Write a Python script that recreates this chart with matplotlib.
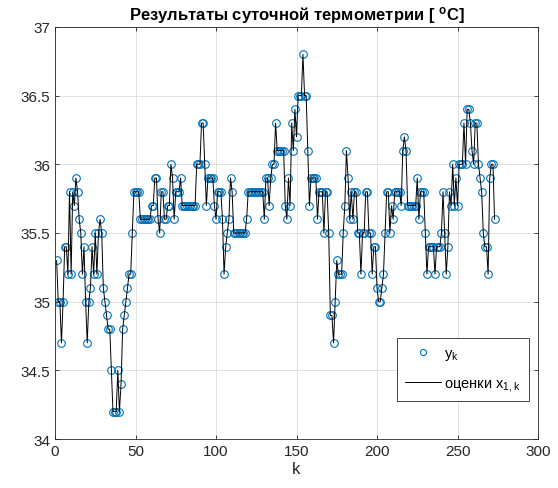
import matplotlib.pyplot as plt

plt.rcParams['font.family'] = ['Liberation Sans', 'DejaVu Sans']
plt.rcParams['mathtext.default'] = 'regular'

# daily thermometry measurements, deg C
y_meas = [
    35.3, 35.0, 35.0, 34.7, 35.0, 35.4, 35.4, 35.2, 35.8, 35.2,
    35.8, 35.7, 35.9, 35.8, 35.6, 35.5, 35.2, 35.4, 35.0, 34.7,
    35.0, 35.1, 35.4, 35.2, 35.5, 35.2, 35.5, 35.6, 35.5, 35.1,
    35.0, 34.9, 34.8, 34.8, 34.5, 34.2, 34.2, 34.2, 34.5, 34.2,
    34.4, 34.8, 34.9, 35.0, 35.1, 35.2, 35.2, 35.5, 35.8, 35.8,
    35.8, 35.8, 35.6, 35.6, 35.6, 35.6, 35.6, 35.6, 35.6, 35.7,
    35.7, 35.9, 35.9, 35.6, 35.5, 35.8, 35.8, 35.6, 35.6, 35.7,
    35.7, 36.0, 35.9, 35.6, 35.8, 35.8, 35.8, 35.9, 35.7, 35.7,
    35.7, 35.7, 35.7, 35.7, 35.7, 35.7, 35.7, 36.0, 36.0, 36.0,
    36.3, 36.3, 36.0, 35.7, 35.9, 35.9, 35.9, 35.9, 35.7, 35.6,
    35.8, 35.8, 35.8, 35.6, 35.2, 35.4, 35.5, 35.6, 35.9, 35.8,
    35.5, 35.5, 35.5, 35.5, 35.5, 35.5, 35.5, 35.5, 35.6, 35.8,
    35.8, 35.8, 35.8, 35.8, 35.8, 35.8, 35.8, 35.8, 35.8, 35.6,
    35.9, 35.9, 35.7, 35.9, 36.0, 36.0, 36.3, 36.1, 36.1, 36.1,
    36.1, 36.1, 35.7, 35.6, 35.9, 35.7, 36.3, 36.1, 36.4, 36.2,
    36.5, 36.5, 36.5, 36.8, 36.5, 36.5, 36.1, 35.7, 35.9, 35.9,
    35.9, 35.9, 35.6, 35.8, 35.8, 35.8, 35.5, 35.8, 35.8, 35.5,
    34.9, 34.9, 34.7, 35.0, 35.3, 35.2, 35.2, 35.2, 35.5, 35.7,
    36.1, 35.9, 35.6, 35.8, 35.6, 35.8, 35.8, 35.5, 35.5, 35.2,
    35.5, 35.5, 35.8, 35.8, 35.5, 35.5, 35.2, 35.4, 35.4, 35.1,
    35.0, 35.0, 35.1, 35.2, 35.5, 35.8, 35.8, 35.5, 35.7, 35.6,
    35.8, 35.8, 35.8, 35.8, 35.7, 36.1, 36.2, 36.1, 35.7, 35.7,
    35.7, 35.7, 35.7, 35.7, 35.9, 35.6, 35.8, 35.8, 35.8, 35.5,
    35.2, 35.4, 35.4, 35.4, 35.4, 35.2, 35.4, 35.4, 35.4, 35.5,
    35.8, 35.5, 35.2, 35.4, 35.8, 35.7, 36.0, 35.7, 35.9, 35.7,
    36.0, 36.0, 36.0, 36.3, 36.0, 36.4, 36.4, 36.3, 36.1, 36.0,
    36.3, 36.3, 36.0, 35.9, 35.8, 35.5, 35.4, 35.4, 35.2, 35.9,
    36.0, 36.0, 35.6,
]
# filter estimate follows the measurements closely
x_est = list(y_meas)
k = list(range(1, len(y_meas) + 1))

fig = plt.figure(figsize=(5.58, 4.89), dpi=100)
ax = fig.add_axes([0.0986, 0.100, 0.8656, 0.843])

ax.plot(k, y_meas, 'o', mfc='none', mec='#0072BD', ms=5.5, mew=0.8,
        label='y$_k$')
ax.plot(k, x_est, '-', color='black', lw=0.7, label='оценки x$_{1,k}$')

ax.set_xlim(0, 300)
ax.set_ylim(34, 37)
ax.set_xticks([0, 50, 100, 150, 200, 250, 300])
ax.set_yticks([34, 34.5, 35, 35.5, 36, 36.5, 37])
ax.set_yticklabels(['34', '34.5', '35', '35.5', '36', '36.5', '37'])
ax.grid(True, color='#dcdcdc', lw=0.6)
ax.set_axisbelow(True)
ax.tick_params(direction='in', top=True, right=True, labelsize=11,
               length=3, width=0.6, colors='#262626')
for s in ax.spines.values():
    s.set_color('#262626')
    s.set_linewidth(0.6)

ax.set_xlabel('k', fontsize=12, color='#262626', labelpad=2)
ax.set_title('Результаты суточной термометрии [ $^o$C]', fontsize=12,
             fontweight='bold', pad=5)

leg = ax.legend(loc='lower left', bbox_to_anchor=(0.708, 0.092),
                borderaxespad=0, fontsize=10.5, fancybox=False,
                edgecolor='#262626', framealpha=1, borderpad=0.55,
                handlelength=2.5, handletextpad=0.2, labelspacing=1.0,
                markerscale=0.8)
leg.get_frame().set_linewidth(0.6)

fig.savefig('out.png', dpi=100)
